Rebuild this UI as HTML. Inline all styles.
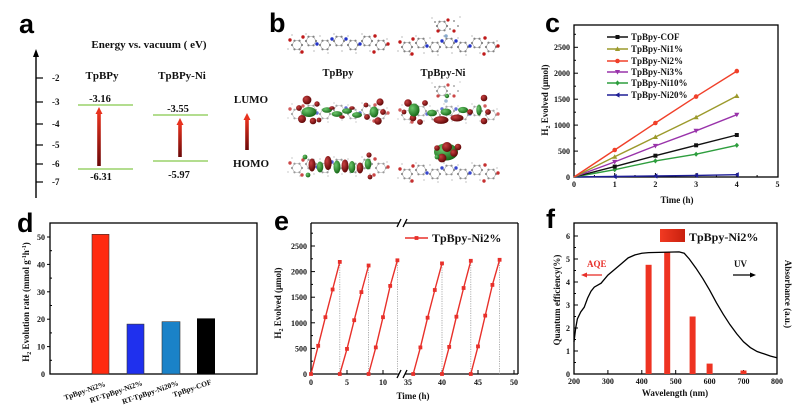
<!DOCTYPE html>
<html><head><meta charset="utf-8">
<style>
html,body{margin:0;padding:0;background:#fff;}
svg{display:block}
text{font-family:"Liberation Serif",serif;font-weight:bold;fill:#111;}
.L{font-family:"Liberation Sans",sans-serif;font-size:27px;font-weight:bold;fill:#000;}
.t8{font-size:8px}
.t9{font-size:9px}
</style></head>
<body>
<svg width="799" height="407" viewBox="0 0 799 407" xmlns="http://www.w3.org/2000/svg" xmlns:xlink="http://www.w3.org/1999/xlink">
<defs>
  <linearGradient id="ra" x1="0" y1="0" x2="0" y2="1">
    <stop offset="0" stop-color="#e8321e"/><stop offset="1" stop-color="#6a0808"/>
  </linearGradient>
  <linearGradient id="lg" x1="0" y1="0" x2="1" y2="0">
    <stop offset="0" stop-color="#f23a22"/><stop offset="1" stop-color="#c8200e"/>
  </linearGradient>
  <radialGradient id="rs" cx="0.35" cy="0.35" r="0.7">
    <stop offset="0" stop-color="#c84040"/><stop offset="1" stop-color="#5a0404"/>
  </radialGradient>
  <radialGradient id="gs" cx="0.35" cy="0.35" r="0.7">
    <stop offset="0" stop-color="#6cc86c"/><stop offset="1" stop-color="#146414"/>
  </radialGradient>
  <g id="hx">
    <polygon points="5,0 2.5,4.3 -2.5,4.3 -5,0 -2.5,-4.3 2.5,-4.3" fill="none" stroke="#aaa" stroke-width="0.7"/>
    <circle cx="5" cy="0" r="1.1" fill="#808080"/><circle cx="2.5" cy="4.3" r="1.1" fill="#808080"/>
    <circle cx="-2.5" cy="4.3" r="1.1" fill="#808080"/><circle cx="-5" cy="0" r="1.1" fill="#808080"/>
    <circle cx="-2.5" cy="-4.3" r="1.1" fill="#808080"/><circle cx="2.5" cy="-4.3" r="1.1" fill="#808080"/>
  </g>
  <g id="mol">
    <use xlink:href="#hx" x="5" y="2"/><use xlink:href="#hx" x="19" y="-2"/><use xlink:href="#hx" x="33" y="2"/>
    <use xlink:href="#hx" x="47" y="-2"/><use xlink:href="#hx" x="61" y="2"/><use xlink:href="#hx" x="75" y="-2"/>
    <use xlink:href="#hx" x="89" y="2"/>
    <g fill="#c8c8c8">
      <circle cx="0" cy="-8" r="0.9"/><circle cx="14" cy="-9" r="0.9"/><circle cx="28" cy="-7" r="0.9"/>
      <circle cx="42" cy="-9" r="0.9"/><circle cx="56" cy="-7" r="0.9"/><circle cx="70" cy="-9" r="0.9"/>
      <circle cx="84" cy="-7" r="0.9"/><circle cx="8" cy="10" r="0.9"/><circle cx="22" cy="8" r="0.9"/>
      <circle cx="36" cy="10" r="0.9"/><circle cx="50" cy="8" r="0.9"/><circle cx="64" cy="10" r="0.9"/>
      <circle cx="78" cy="8" r="0.9"/><circle cx="95" cy="-4" r="0.9"/><circle cx="-4" cy="6" r="0.9"/>
    </g>
    <g fill="#c01a1a">
      <circle cx="-2" cy="-3" r="1.7"/><circle cx="11" cy="-6" r="1.7"/><circle cx="10" cy="9" r="1.7"/>
      <circle cx="83" cy="-7" r="1.7"/><circle cx="96" cy="1" r="1.7"/><circle cx="82" cy="9" r="1.7"/>
    </g>
    <g fill="#2233c8">
      <circle cx="25" cy="1" r="1.7"/><circle cx="40" cy="-4" r="1.7"/><circle cx="54" cy="-4" r="1.7"/><circle cx="68" cy="1" r="1.7"/>
    </g>
  </g>
  <g id="cx">
    <use xlink:href="#hx" x="40" y="-19"/>
    <circle cx="33" cy="-23" r="1" fill="#999"/><circle cx="52" cy="-24" r="1" fill="#999"/>
    <circle cx="48" cy="-16" r="1" fill="#999"/><circle cx="56" cy="-19" r="1" fill="#999"/>
    <circle cx="36" cy="-14" r="1.6" fill="#c01a1a"/><circle cx="46" cy="-25" r="1.6" fill="#c01a1a"/>
    <circle cx="52" cy="-14" r="1.6" fill="#c01a1a"/><circle cx="44" cy="-9" r="1.8" fill="#88aacc"/>
    <circle cx="30" cy="-27" r="0.9" fill="#ccc"/><circle cx="58" cy="-28" r="0.9" fill="#ccc"/>
  </g>
  <marker id="m1" markerUnits="userSpaceOnUse" markerWidth="8" markerHeight="8" refX="0" refY="0" viewBox="-4 -4 8 8" overflow="visible"><rect x="-2" y="-2" width="4" height="4" fill="#111"/></marker>
  <marker id="m2" markerUnits="userSpaceOnUse" markerWidth="8" markerHeight="8" refX="0" refY="0" viewBox="-4 -4 8 8" overflow="visible"><polygon points="0,-2.6 2.6,2 -2.6,2" fill="#9c9a2c"/></marker>
  <marker id="m3" markerUnits="userSpaceOnUse" markerWidth="8" markerHeight="8" refX="0" refY="0" viewBox="-4 -4 8 8" overflow="visible"><circle r="2.3" fill="#f0402a"/></marker>
  <marker id="m4" markerUnits="userSpaceOnUse" markerWidth="8" markerHeight="8" refX="0" refY="0" viewBox="-4 -4 8 8" overflow="visible"><polygon points="0,2.6 2.6,-2 -2.6,-2" fill="#9933aa"/></marker>
  <marker id="m5" markerUnits="userSpaceOnUse" markerWidth="8" markerHeight="8" refX="0" refY="0" viewBox="-4 -4 8 8" overflow="visible"><polygon points="0,-2.6 2.2,0 0,2.6 -2.2,0" fill="#2e9e3e"/></marker>
  <marker id="m6" markerUnits="userSpaceOnUse" markerWidth="8" markerHeight="8" refX="0" refY="0" viewBox="-4 -4 8 8" overflow="visible"><polygon points="-2.6,0 2,-2.6 2,2.6" fill="#1e1e96"/></marker>
  <marker id="m7" markerUnits="userSpaceOnUse" markerWidth="8" markerHeight="8" refX="0" refY="0" viewBox="-4 -4 8 8" overflow="visible"><rect x="-1.9" y="-1.9" width="3.8" height="3.8" fill="#e8302a"/></marker>
</defs>

<!-- ================= Panel a ================= -->
<text class="L" x="19" y="33">a</text>
<text x="149" y="48" text-anchor="middle" style="font-size:11px">Energy vs. vacuum ( eV)</text>
<line x1="36" y1="55" x2="36" y2="198" stroke="#000" stroke-width="1.4"/>
<polygon points="36,49 33,57 39,57" fill="#000"/>
<g stroke="#000" stroke-width="1.2">
  <line x1="36" y1="78" x2="43" y2="78"/><line x1="36" y1="102" x2="43" y2="102"/>
  <line x1="36" y1="124" x2="43" y2="124"/><line x1="36" y1="145" x2="43" y2="145"/>
  <line x1="36" y1="164" x2="43" y2="164"/><line x1="36" y1="182" x2="43" y2="182"/>
</g>
<g class="t9">
  <text x="52" y="81">-2</text><text x="52" y="105">-3</text><text x="52" y="127">-4</text>
  <text x="52" y="148">-5</text><text x="52" y="167">-6</text><text x="52" y="185">-7</text>
</g>
<text x="102" y="79" text-anchor="middle" style="font-size:11px">TpBPy</text>
<text x="182" y="79" text-anchor="middle" style="font-size:11px">TpBPy-Ni</text>
<g stroke="#9ad26a" stroke-width="1.4">
  <line x1="78" y1="105" x2="133" y2="105"/><line x1="78" y1="169" x2="133" y2="169"/>
  <line x1="153" y1="115" x2="208" y2="115"/><line x1="153" y1="161" x2="208" y2="161"/>
</g>
<g style="font-size:10.5px" text-anchor="middle">
  <text x="100" y="102">-3.16</text><text x="101" y="180">-6.31</text>
  <text x="178" y="112">-3.55</text><text x="179" y="178">-5.97</text>
</g>
<rect x="97.2" y="113" width="3.6" height="53" fill="url(#ra)"/>
<polygon points="99,107 95.5,114 102.5,114" fill="#e8321e"/>
<rect x="178.2" y="124" width="3.6" height="33" fill="url(#ra)"/>
<polygon points="180,118 176.5,125 183.5,125" fill="#e8321e"/>
<rect x="245.2" y="119" width="3.6" height="31" fill="url(#ra)"/>
<polygon points="247,113 243.5,120 250.5,120" fill="#e8321e"/>
<text x="251" y="103" text-anchor="middle" style="font-size:11px">LUMO</text>
<text x="251" y="167" text-anchor="middle" style="font-size:11px">HOMO</text>

<!-- ================= Panel b ================= -->
<text class="L" x="269" y="32">b</text>
<use xlink:href="#mol" x="292" y="43"/>
<use xlink:href="#mol" x="402" y="45"/>
<use xlink:href="#cx" x="402" y="45"/>
<text x="338" y="76" text-anchor="middle" style="font-size:10.5px">TpBpy</text>
<text x="443" y="76" text-anchor="middle" style="font-size:10.5px">TpBpy-Ni</text>

<!-- LUMO TpBpy -->
<use xlink:href="#mol" x="292" y="112" opacity="0.7"/>
<g>
  <circle cx="307" cy="100" r="4.4" fill="url(#rs)"/><circle cx="299" cy="108" r="2.9" fill="url(#rs)"/>
  <circle cx="302" cy="119" r="4" fill="url(#rs)"/><circle cx="313" cy="121" r="3.3" fill="url(#rs)"/>
  <circle cx="317" cy="104" r="2.7" fill="url(#rs)"/><circle cx="319" cy="120" r="2.4" fill="url(#rs)"/>
  <ellipse cx="309" cy="112" rx="7.5" ry="5" fill="url(#gs)"/>
  <ellipse cx="327" cy="110" rx="5" ry="2.8" fill="url(#gs)"/>
  <ellipse cx="337" cy="114" rx="5.5" ry="2.9" fill="url(#gs)"/>
  <ellipse cx="347" cy="111" rx="5" ry="2.8" fill="url(#gs)"/>
  <ellipse cx="357" cy="115" rx="5" ry="2.9" fill="url(#gs)"/>
  <ellipse cx="332" cy="108" rx="2.8" ry="1.8" fill="url(#rs)"/><ellipse cx="342" cy="117" rx="2.8" ry="1.8" fill="url(#rs)"/>
  <ellipse cx="352" cy="108" rx="2.8" ry="1.8" fill="url(#rs)"/>
  <ellipse cx="374" cy="112" rx="4.4" ry="5.5" fill="url(#gs)"/>
  <circle cx="380" cy="102" r="3.6" fill="url(#rs)"/><circle cx="383" cy="112" r="2.9" fill="url(#rs)"/>
  <circle cx="378" cy="121" r="3.7" fill="url(#rs)"/><circle cx="367" cy="117" r="2.9" fill="url(#rs)"/>
  <circle cx="366" cy="105" r="2.4" fill="url(#rs)"/>
</g>
<!-- LUMO TpBpy-Ni -->
<use xlink:href="#mol" x="402" y="113" opacity="0.7"/>
<use xlink:href="#cx" x="402" y="110" opacity="0.8"/>
<g>
  <circle cx="408" cy="103" r="3.8" fill="url(#rs)"/><circle cx="404" cy="112" r="2.4" fill="url(#rs)"/>
  <circle cx="413" cy="118" r="3.3" fill="url(#rs)"/><circle cx="420" cy="122" r="2.9" fill="url(#rs)"/>
  <circle cx="425" cy="103" r="2.9" fill="url(#rs)"/>
  <ellipse cx="414" cy="110" rx="5.5" ry="6.5" fill="url(#gs)"/>
  <ellipse cx="432" cy="113" rx="5" ry="3.3" fill="url(#gs)"/>
  <ellipse cx="446" cy="112" rx="5.5" ry="3.5" fill="url(#gs)"/>
  <ellipse cx="463" cy="110" rx="5" ry="3.1" fill="url(#gs)"/>
  <ellipse cx="441" cy="120" rx="7.5" ry="3.9" fill="url(#rs)"/>
  <ellipse cx="457" cy="118" rx="6.5" ry="3.5" fill="url(#rs)"/>
  <circle cx="470" cy="112" r="2.9" fill="url(#rs)"/>
  <ellipse cx="479" cy="110" rx="2.7" ry="5.5" fill="url(#gs)"/>
  <circle cx="484" cy="98" r="3.3" fill="url(#rs)"/><circle cx="488" cy="112" r="2.9" fill="url(#rs)"/>
  <circle cx="484" cy="121" r="3.3" fill="url(#rs)"/>
  <circle cx="447" cy="96" r="2.2" fill="url(#gs)"/>
</g>
<!-- HOMO TpBpy -->
<use xlink:href="#mol" x="292" y="166" opacity="0.8"/>
<g>
  <ellipse cx="312" cy="165" rx="3.5" ry="6.5" fill="url(#rs)"/>
  <ellipse cx="320" cy="167" rx="3.3" ry="5.5" fill="url(#gs)"/>
  <ellipse cx="328" cy="163" rx="3.7" ry="7" fill="url(#rs)"/>
  <ellipse cx="337" cy="167" rx="3.5" ry="6.5" fill="url(#gs)"/>
  <ellipse cx="345" cy="166" rx="3.5" ry="6.5" fill="url(#rs)"/>
  <ellipse cx="352" cy="167" rx="3.3" ry="6" fill="url(#gs)"/>
  <ellipse cx="360" cy="168" rx="3.3" ry="5.5" fill="url(#rs)"/>
  <ellipse cx="368" cy="164" rx="3.3" ry="5.5" fill="url(#gs)"/>
  <circle cx="305" cy="157" r="2.4" fill="url(#gs)"/><circle cx="308" cy="175" r="2.4" fill="url(#gs)"/>
  <circle cx="369" cy="155" r="2.6" fill="url(#rs)"/><circle cx="370" cy="177" r="2.4" fill="url(#rs)"/>
</g>
<!-- HOMO TpBpy-Ni -->
<use xlink:href="#mol" x="402" y="172" opacity="0.9"/>
<g>
  <ellipse cx="446" cy="152" rx="12" ry="8.5" fill="url(#gs)"/>
  <circle cx="447" cy="147" r="5" fill="url(#rs)"/>
  <circle cx="442" cy="158" r="4.4" fill="url(#rs)"/>
  <circle cx="454" cy="153" r="3.8" fill="url(#rs)"/>
  <circle cx="437" cy="148" r="2.8" fill="url(#rs)"/>
  <circle cx="458" cy="147" r="3.3" fill="url(#rs)"/>
  <circle cx="437" cy="157" r="2.4" fill="url(#gs)"/>
</g>

<!-- ================= Panel c ================= -->
<text class="L" x="545" y="32">c</text>
<rect x="574" y="25" width="204" height="152" fill="none" stroke="#000" stroke-width="1.3"/>
<g stroke="#000" stroke-width="1">
  <line x1="574" y1="151.1" x2="578" y2="151.1"/><line x1="574" y1="125.1" x2="578" y2="125.1"/>
  <line x1="574" y1="99.2" x2="578" y2="99.2"/><line x1="574" y1="73.2" x2="578" y2="73.2"/>
  <line x1="574" y1="47.3" x2="578" y2="47.3"/>
  <line x1="574" y1="164" x2="576" y2="164"/><line x1="574" y1="138.1" x2="576" y2="138.1"/>
  <line x1="574" y1="112.2" x2="576" y2="112.2"/><line x1="574" y1="86.2" x2="576" y2="86.2"/>
  <line x1="574" y1="60.3" x2="576" y2="60.3"/><line x1="574" y1="34.3" x2="576" y2="34.3"/>
  <line x1="614.7" y1="177" x2="614.7" y2="173"/><line x1="655.4" y1="177" x2="655.4" y2="173"/>
  <line x1="696.1" y1="177" x2="696.1" y2="173"/><line x1="736.8" y1="177" x2="736.8" y2="173"/>
  <line x1="594.4" y1="177" x2="594.4" y2="175"/><line x1="635" y1="177" x2="635" y2="175"/>
  <line x1="675.7" y1="177" x2="675.7" y2="175"/><line x1="716.4" y1="177" x2="716.4" y2="175"/>
  <line x1="757.1" y1="177" x2="757.1" y2="175"/>
</g>
<g class="t8" text-anchor="end">
  <text x="570" y="180">0</text><text x="570" y="154">500</text><text x="570" y="128">1000</text>
  <text x="570" y="102">1500</text><text x="570" y="76">2000</text><text x="570" y="50">2500</text>
</g>
<g class="t8" text-anchor="middle">
  <text x="574" y="187">0</text><text x="614.7" y="187">1</text><text x="655.4" y="187">2</text>
  <text x="696.1" y="187">3</text><text x="736.8" y="187">4</text><text x="777.5" y="187">5</text>
</g>
<text class="t9" x="677" y="203" text-anchor="middle">Time (h)</text>
<text class="t9" transform="translate(548,100) rotate(-90)" text-anchor="middle">H<tspan font-size="6" dy="2">2</tspan><tspan dy="-2"> Evolved (μmol)</tspan></text>
<g fill="none" stroke-width="1.4">
  <polyline points="574,177 614.7,176.5 655.4,176 696.1,175.4 736.8,174.7" stroke="#1e1e96" marker-mid="url(#m6)" marker-end="url(#m6)"/>
  <polyline points="574,177 614.7,169.7 655.4,160.9 696.1,154.2 736.8,145.3" stroke="#2e9e3e" marker-mid="url(#m5)" marker-end="url(#m5)"/>
  <polyline points="574,177 614.7,166.6 655.4,155.7 696.1,145.3 736.8,135" stroke="#111" marker-mid="url(#m1)" marker-end="url(#m1)"/>
  <polyline points="574,177 614.7,161.9 655.4,145.9 696.1,130.8 736.8,114.7" stroke="#9933aa" marker-mid="url(#m4)" marker-end="url(#m4)"/>
  <polyline points="574,177 614.7,156.8 655.4,137 696.1,117.3 736.8,96" stroke="#9c9a2c" marker-mid="url(#m2)" marker-end="url(#m2)"/>
  <polyline points="574,177 614.7,150 655.4,123 696.1,96.6 736.8,71.1" stroke="#f0402a" marker-mid="url(#m3)" marker-end="url(#m3)"/>
</g>
<!-- legend c -->
<g stroke-width="1.4" fill="none">
  <polyline points="607,37 617.5,37 628,37" stroke="#111" marker-mid="url(#m1)"/>
  <polyline points="607,49 617.5,49 628,49" stroke="#9c9a2c" marker-mid="url(#m2)"/>
  <polyline points="607,61 617.5,61 628,61" stroke="#f0402a" marker-mid="url(#m3)"/>
  <polyline points="607,72 617.5,72 628,72" stroke="#9933aa" marker-mid="url(#m4)"/>
  <polyline points="607,83 617.5,83 628,83" stroke="#2e9e3e" marker-mid="url(#m5)"/>
  <polyline points="607,95 617.5,95 628,95" stroke="#1e1e96" marker-mid="url(#m6)"/>
</g>
<g class="t9">
  <text x="631" y="40">TpBpy-COF</text><text x="631" y="52">TpBpy-Ni1%</text>
  <text x="631" y="64">TpBpy-Ni2%</text><text x="631" y="75">TpBpy-Ni3%</text>
  <text x="631" y="86">TpBpy-Ni10%</text><text x="631" y="98">TpBpy-Ni20%</text>
</g>

<!-- ================= Panel d ================= -->
<text class="L" x="17" y="232">d</text>
<rect x="50" y="223" width="207" height="151" fill="none" stroke="#000" stroke-width="1.3"/>
<g stroke="#000" stroke-width="1">
  <line x1="47" y1="346.6" x2="50" y2="346.6"/><line x1="47" y1="319.2" x2="50" y2="319.2"/>
  <line x1="47" y1="291.8" x2="50" y2="291.8"/><line x1="47" y1="264.4" x2="50" y2="264.4"/>
  <line x1="47" y1="237" x2="50" y2="237"/>
  <line x1="50" y1="360.3" x2="52" y2="360.3"/><line x1="50" y1="332.9" x2="52" y2="332.9"/>
  <line x1="50" y1="305.5" x2="52" y2="305.5"/><line x1="50" y1="278.1" x2="52" y2="278.1"/>
  <line x1="50" y1="250.7" x2="52" y2="250.7"/>
</g>
<g class="t8" text-anchor="end">
  <text x="45" y="377">0</text><text x="45" y="349.6">10</text><text x="45" y="322.2">20</text>
  <text x="45" y="294.8">30</text><text x="45" y="267.4">40</text><text x="45" y="240">50</text>
</g>
<rect x="92" y="234.3" width="17" height="139.7" fill="#ff2b10" stroke="#333" stroke-width="0.6"/>
<rect x="127" y="324.1" width="17" height="49.9" fill="#1f30ee" stroke="#333" stroke-width="0.6"/>
<rect x="162" y="321.7" width="18" height="52.3" fill="#1a82c8" stroke="#333" stroke-width="0.6"/>
<rect x="197" y="318.4" width="18" height="55.6" fill="#000"/>
<g style="font-size:7.5px" text-anchor="end">
  <text transform="translate(106,386) rotate(-19)">TpBpy-Ni2%</text>
  <text transform="translate(143,385) rotate(-19)">RT-TpBpy-Ni2%</text>
  <text transform="translate(179,385) rotate(-19)">RT-TpBpy-Ni20%</text>
  <text transform="translate(212,384) rotate(-19)">TpBpy-COF</text>
</g>
<text class="t9" transform="translate(29,302) rotate(-90)" text-anchor="middle">H<tspan font-size="6" dy="2">2</tspan><tspan dy="-2"> Evolution rate (mmol g</tspan><tspan font-size="6" dy="-3">-1</tspan><tspan dy="3">h</tspan><tspan font-size="6" dy="-3">-1</tspan><tspan dy="3">)</tspan></text>

<!-- ================= Panel e ================= -->
<text class="L" x="274" y="230">e</text>
<g stroke="#000" stroke-width="1.3" fill="none">
  <line x1="311" y1="223" x2="311" y2="374"/><line x1="518" y1="223" x2="518" y2="374"/>
  <line x1="311" y1="374" x2="399" y2="374"/><line x1="405" y1="374" x2="518" y2="374"/>
  <line x1="311" y1="223" x2="399" y2="223"/><line x1="405" y1="223" x2="518" y2="223"/>
  <line x1="397" y1="378" x2="401" y2="370"/><line x1="403" y1="378" x2="407" y2="370"/>
  <line x1="397" y1="227" x2="401" y2="219"/><line x1="403" y1="227" x2="407" y2="219"/>
</g>
<g stroke="#000" stroke-width="1">
  <line x1="311" y1="348.4" x2="315" y2="348.4"/><line x1="311" y1="322.8" x2="315" y2="322.8"/>
  <line x1="311" y1="297.2" x2="315" y2="297.2"/><line x1="311" y1="271.6" x2="315" y2="271.6"/>
  <line x1="311" y1="246" x2="315" y2="246"/>
  <line x1="311" y1="361.2" x2="313" y2="361.2"/><line x1="311" y1="335.6" x2="313" y2="335.6"/>
  <line x1="311" y1="310" x2="313" y2="310"/><line x1="311" y1="284.4" x2="313" y2="284.4"/>
  <line x1="311" y1="258.8" x2="313" y2="258.8"/><line x1="311" y1="233.2" x2="313" y2="233.2"/>
  <line x1="347" y1="374" x2="347" y2="370"/><line x1="383" y1="374" x2="383" y2="370"/>
  <line x1="442" y1="374" x2="442" y2="370"/><line x1="478" y1="374" x2="478" y2="370"/>
  <line x1="514" y1="374" x2="514" y2="370"/>
</g>
<g class="t8" text-anchor="end">
  <text x="307" y="377">0</text><text x="307" y="351.4">500</text><text x="307" y="325.8">1000</text>
  <text x="307" y="300.2">1500</text><text x="307" y="274.6">2000</text><text x="307" y="249">2500</text>
</g>
<g class="t8" text-anchor="middle">
  <text x="311" y="385">0</text><text x="347" y="385">5</text><text x="383" y="385">10</text>
  <text x="408" y="385">35</text><text x="442" y="385">40</text><text x="478" y="385">45</text><text x="514" y="385">50</text>
</g>
<text class="t9" x="413" y="399" text-anchor="middle">Time (h)</text>
<text class="t9" transform="translate(281,303) rotate(-90)" text-anchor="middle">H<tspan font-size="6" dy="2">2</tspan><tspan dy="-2"> Evolved (μmol)</tspan></text>
<g stroke="#999" stroke-width="0.8" stroke-dasharray="1.2,1.2">
  <line x1="339.8" y1="374" x2="339.8" y2="262"/><line x1="368.6" y1="374" x2="368.6" y2="265.5"/>
  <line x1="397.4" y1="374" x2="397.4" y2="260.3"/><line x1="442" y1="374" x2="442" y2="263.4"/>
  <line x1="470.8" y1="374" x2="470.8" y2="260.8"/><line x1="499.6" y1="374" x2="499.6" y2="259.8"/>
</g>
<g fill="none" stroke="#e8302a" stroke-width="1.4">
  <polyline points="311,374 318.2,345.8 325.4,317.2 332.6,289.5 339.8,261.9" marker-start="url(#m7)" marker-mid="url(#m7)" marker-end="url(#m7)"/>
  <polyline points="339.8,374 347,348.9 354.2,320.2 361.4,292.1 368.6,265.5" marker-start="url(#m7)" marker-mid="url(#m7)" marker-end="url(#m7)"/>
  <polyline points="368.6,374 375.8,347.4 383,317.2 390.2,285.9 397.4,260.3" marker-start="url(#m7)" marker-mid="url(#m7)" marker-end="url(#m7)"/>
  <polyline points="413.2,374 420.4,347.4 427.6,317.7 434.8,290 442,263.4" marker-start="url(#m7)" marker-mid="url(#m7)" marker-end="url(#m7)"/>
  <polyline points="442,374 449.2,346.9 456.4,316.7 463.6,288 470.8,260.8" marker-start="url(#m7)" marker-mid="url(#m7)" marker-end="url(#m7)"/>
  <polyline points="470.8,374 478,346.4 485.2,315.6 492.4,284.9 499.6,259.8" marker-start="url(#m7)" marker-mid="url(#m7)" marker-end="url(#m7)"/>
  <polyline points="405,238 416.5,238 428,238" marker-mid="url(#m7)"/>
</g>
<text x="432" y="242" style="font-size:12px">TpBpy-Ni2%</text>

<!-- ================= Panel f ================= -->
<text class="L" x="546" y="228">f</text>
<rect x="574" y="223" width="203" height="151" fill="none" stroke="#000" stroke-width="1.3"/>
<g stroke="#000" stroke-width="1">
  <line x1="574" y1="351" x2="578" y2="351"/><line x1="574" y1="328" x2="578" y2="328"/>
  <line x1="574" y1="305" x2="578" y2="305"/><line x1="574" y1="282" x2="578" y2="282"/>
  <line x1="574" y1="259" x2="578" y2="259"/><line x1="574" y1="236" x2="578" y2="236"/>
  <line x1="574" y1="362.5" x2="576" y2="362.5"/><line x1="574" y1="339.5" x2="576" y2="339.5"/>
  <line x1="574" y1="316.5" x2="576" y2="316.5"/><line x1="574" y1="293.5" x2="576" y2="293.5"/>
  <line x1="574" y1="270.5" x2="576" y2="270.5"/><line x1="574" y1="247.5" x2="576" y2="247.5"/>
  <line x1="607.9" y1="374" x2="607.9" y2="370"/><line x1="641.8" y1="374" x2="641.8" y2="370"/>
  <line x1="675.7" y1="374" x2="675.7" y2="370"/><line x1="709.6" y1="374" x2="709.6" y2="370"/>
  <line x1="743.5" y1="374" x2="743.5" y2="370"/>
</g>
<g class="t8" text-anchor="end">
  <text x="570" y="377">0</text><text x="570" y="354">1</text><text x="570" y="331">2</text>
  <text x="570" y="308">3</text><text x="570" y="285">4</text><text x="570" y="262">5</text><text x="570" y="239">6</text>
</g>
<g class="t8" text-anchor="middle">
  <text x="574" y="384">200</text><text x="607.9" y="384">300</text><text x="641.8" y="384">400</text>
  <text x="675.7" y="384">500</text><text x="709.6" y="384">600</text><text x="743.5" y="384">700</text><text x="777" y="384">800</text>
</g>
<text class="t9" x="675" y="396" text-anchor="middle">Wavelength (nm)</text>
<text class="t9" transform="translate(560,300) rotate(-90)" text-anchor="middle">Quantum efficiency(%)</text>
<text class="t9" transform="translate(785,294) rotate(90)" text-anchor="middle">Absorbance (a.u.)</text>
<g fill="#ee3322">
  <rect x="645.6" y="264.8" width="6" height="109.2"/>
  <rect x="664.2" y="252.1" width="6" height="121.9"/>
  <rect x="689.6" y="316.5" width="6" height="57.5"/>
  <rect x="706.6" y="363.6" width="6" height="10.4"/>
  <rect x="740.5" y="370.5" width="6" height="3.5"/>
</g>
<polyline fill="none" stroke="#000" stroke-width="1.3" points="574,341.8 575.7,328 577.4,318.8 580.8,311.9 584.2,307.3 587.6,298.1 591,291.2 594.3,287.1 601.1,283.2 607.9,275.1 614.7,269.35 621.5,263.6 628.2,257.85 635,254.9 641.8,253.25 648.6,252.6 658.8,252.4 668.9,252.1 679.1,251.9 684.2,253.25 689.3,259 696,268.2 702.8,278.55 709.6,290.05 716.4,302.7 723.2,314.2 729.9,324.55 736.7,333.75 743.5,341.8 750.3,347.55 757.1,351.5 763.8,353.8 770.6,356.1 777.4,357.9"/>
<rect x="660" y="229" width="25" height="13" fill="url(#lg)"/>
<text x="689" y="241" style="font-size:12px">TpBpy-Ni2%</text>
<text x="587" y="267" style="font-size:9px;fill:#e8302a">AQE</text>
<line x1="602" y1="275" x2="586" y2="275" stroke="#e8302a" stroke-width="1.3"/>
<polygon points="581,275 587,272.5 587,277.5" fill="#e8302a"/>
<text x="734" y="267" style="font-size:9px">UV</text>
<line x1="733" y1="275" x2="751" y2="275" stroke="#000" stroke-width="1.3"/>
<polygon points="756,275 750,272.5 750,277.5" fill="#000"/>
</svg>
</body></html>
